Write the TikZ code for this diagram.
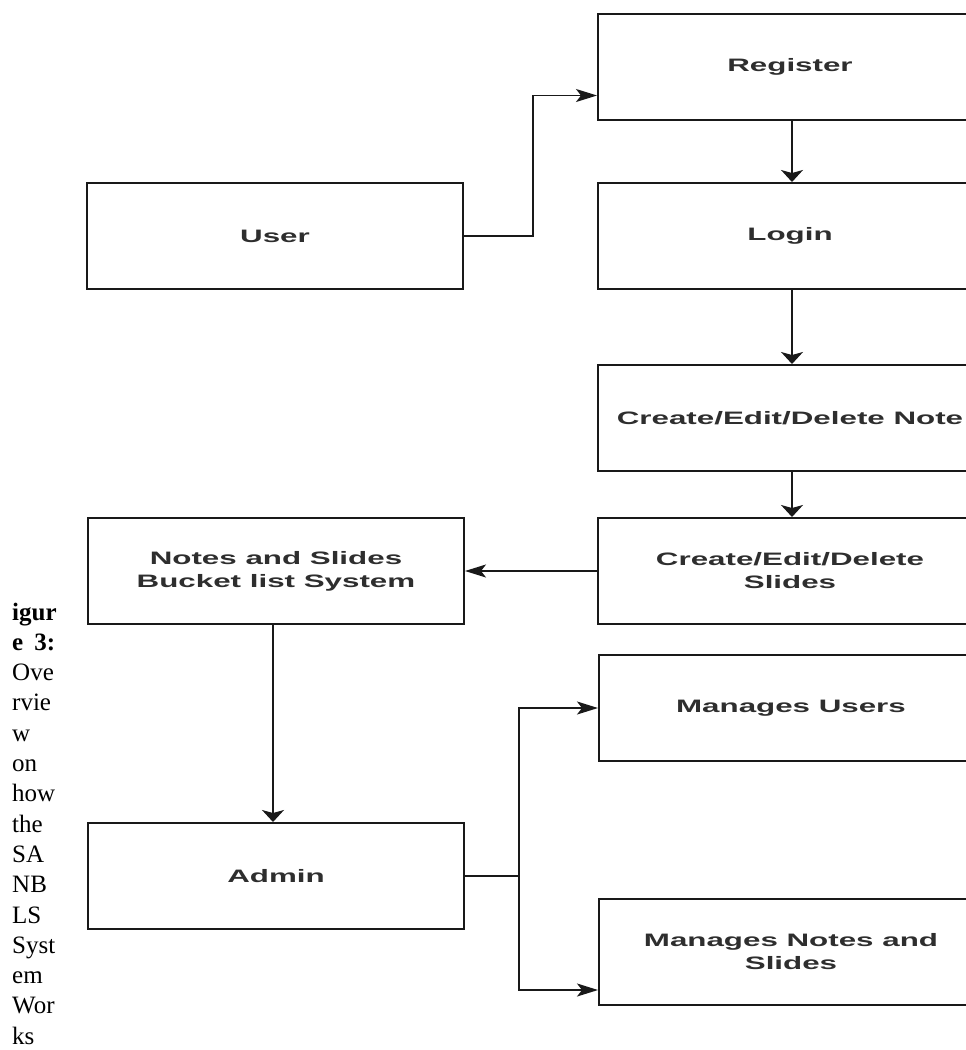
\documentclass[tikz,border=0pt]{standalone}
\usepackage{graphicx}
\usepackage{fontspec}
\setmainfont{Liberation Serif}
\newfontfamily\boxfont{Liberation Sans}
\usetikzlibrary{arrows.meta,calc}
% box labels are set wide: horizontal stretch of each line
\newcommand{\hwide}[1]{\scalebox{1.74}[1]{#1}}
\begin{document}
\begin{tikzpicture}[x=1pt,y=-1pt,
  box/.style={draw=black!90, line width=2pt, minimum width=376pt,
    minimum height=106pt, inner sep=0pt, anchor=north west, align=center,
    text=black!82, font=\boxfont\bfseries\fontsize{18}{23}\selectfont},
  rbox/.style={box, minimum width=384pt},
  conn/.style={draw=black!90, line width=1.7pt},
  harrow/.style={-{Stealth[length=21pt,width=13pt,inset=5pt]}},
  varrow/.style={-{Stealth[length=12pt,width=22pt,inset=3pt]}},
  captext/.style={anchor=base west, inner sep=0pt, font=\fontsize{25}{30}\selectfont}]
\useasboundingbox (0,0) rectangle (966,1050);
\clip (0,0) rectangle (966,1050);

% left column
\node[box] (user)   at (86,182)  {\hwide{User}};
\node[box] (bucket) at (87,517)  {\hwide{Notes and Slides}\\\hwide{Bucket list System}};
\node[box] (admin)  at (87,822)  {\hwide{Admin}};

% right column (runs past the right margin)
\node[rbox] (register) at (597,13)  {\hwide{Register}};
\node[rbox] (login)    at (597,182) {\hwide{Login}};
\node[rbox] (note)     at (597,364) {\hwide{Create/Edit/Delete Note}};
\node[rbox] (slides)   at (597,517) {\hwide{Create/Edit/Delete}\\\hwide{Slides}};
\node[rbox] (musers)   at (598,654) {\hwide{Manages Users}};
\node[rbox] (mnotes)   at (598,898) {\hwide{Manages Notes and}\\\hwide{Slides}};

% connectors
\draw[conn,harrow] (user.east) -- ++(69,0) |- ($(register.west)+(0,28.5)$);
\draw[conn,varrow] ($(register.south)+(2,0)$) -- ($(login.north)+(2,0)$);
\draw[conn,varrow] ($(login.south)+(2,0)$) -- ($(note.north)+(2,0)$);
\draw[conn,varrow] ($(note.south)+(2,0)$) -- ($(slides.north)+(2,0)$);
\draw[conn,harrow] (slides.west) -- (bucket.east);
\draw[conn,varrow] ($(bucket.south)+(-3,0)$) -- ($(admin.north)+(-3,0)$);
\draw[conn,harrow] (admin.east) -- ++(54,0) |- (musers.west);
\draw[conn,harrow] (admin.east) -- ++(54,0) |- ($(mnotes.west)+(0,38)$);

% caption, one word fragment per line
\node[captext] (cap1)  at (12,620.0)  {\bfseries igur};
\node[captext] (cap2)  at (12,650.3)  {\bfseries e\hspace{11pt}3:};
\node[captext] (cap3)  at (12,680.6)  {Ove};
\node[captext] (cap4)  at (12,710.9)  {rvie};
\node[captext] (cap5)  at (12,741.2)  {w};
\node[captext] (cap6)  at (12,771.5)  {on};
\node[captext] (cap7)  at (12,801.8)  {how};
\node[captext] (cap8)  at (12,832.1)  {the};
\node[captext] (cap9)  at (12,862.4)  {SA};
\node[captext] (cap10) at (12,892.7)  {NB};
\node[captext] (cap11) at (12,923.0)  {LS};
\node[captext] (cap12) at (12,953.3)  {Syst};
\node[captext] (cap13) at (12,983.6)  {em};
\node[captext] (cap14) at (12,1013.9) {Wor};
\node[captext] (cap15) at (12,1044.2) {ks};
\end{tikzpicture}
\end{document}
